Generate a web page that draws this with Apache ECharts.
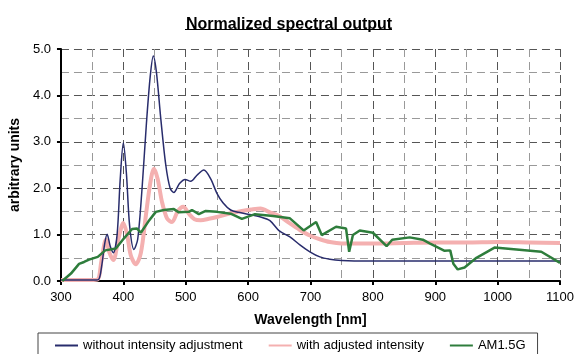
<!DOCTYPE html>
<html>
<head>
<meta charset="utf-8">
<script src="https://cdn.jsdelivr.net/npm/echarts@6/dist/echarts.min.js"></script>
<style>
  html, body { margin: 0; padding: 0; background: #fff; }
  #chart { width: 577px; height: 354px; }
</style>
</head>
<body>
<div id="chart"></div>
<script>
// values
const rawWl = [300, 350, 360, 365, 370, 374, 379, 384, 390, 395, 400, 405, 410, 417, 423, 430, 437, 443, 448, 453, 460, 468, 475, 481, 490, 499, 508, 518, 529, 540, 550, 560, 572, 585, 600, 620, 635, 650, 667, 683, 699, 715, 731, 750, 770, 800, 900, 1000, 1100];
const rawVal = [0.02, 0.02, 0.03, 0.3, 0.8, 1.01, 0.75, 0.61, 1.0, 2.2, 2.98, 2.3, 1.2, 0.68, 0.9, 2.0, 3.4, 4.4, 4.85, 4.5, 3.5, 2.5, 2.0, 1.91, 2.1, 2.19, 2.15, 2.28, 2.39, 2.2, 1.89, 1.68, 1.53, 1.48, 1.44, 1.38, 1.3, 1.08, 0.95, 0.78, 0.63, 0.52, 0.47, 0.44, 0.43, 0.43, 0.43, 0.43, 0.43];

const adjWl = [300, 320, 340, 358, 365, 372, 378, 384, 392, 400, 406, 412, 420, 428, 436, 443, 449, 455, 462, 470, 478, 487, 496, 505, 514, 524, 537, 550, 572, 590, 605, 620, 635, 651, 667, 683, 699, 715, 731, 750, 800, 850, 900, 950, 1000, 1050, 1100];
const adjVal = [0.02, 0.02, 0.02, 0.03, 0.45, 0.89, 0.6, 0.45, 0.9, 1.25, 1.0, 0.55, 0.36, 0.6, 1.4, 2.1, 2.42, 2.2, 1.7, 1.35, 1.27, 1.5, 1.6, 1.45, 1.33, 1.31, 1.34, 1.38, 1.46, 1.51, 1.54, 1.56, 1.48, 1.39, 1.24, 1.1, 0.98, 0.9, 0.84, 0.81, 0.81, 0.82, 0.83, 0.83, 0.84, 0.83, 0.82];

const amWl = [302, 316, 329, 337, 345, 359, 371, 388, 401, 414, 422, 428, 440, 452, 465, 481, 489, 505, 510, 521, 532, 550, 572, 590, 611, 640, 667, 689, 709, 718, 741, 757, 762, 768, 779, 800, 822, 831, 859, 880, 891, 915, 924, 929, 936, 947, 966, 995, 1070, 1100];
const amVal = [0.0, 0.16, 0.37, 0.41, 0.46, 0.52, 0.66, 0.7, 0.92, 1.12, 1.13, 1.04, 1.28, 1.49, 1.53, 1.55, 1.48, 1.49, 1.53, 1.44, 1.51, 1.49, 1.45, 1.34, 1.44, 1.4, 1.35, 1.09, 1.27, 0.99, 1.17, 1.13, 0.63, 0.99, 1.09, 1.04, 0.75, 0.89, 0.94, 0.89, 0.81, 0.65, 0.66, 0.37, 0.25, 0.29, 0.5, 0.72, 0.63, 0.39];

const seriesNames = ['without intensity adjustment', 'with adjusted intensity', 'AM1.5G'];

const zip = (xs, ys) => xs.map((x, i) => [x, ys[i]]);

const FONT = '"Liberation Sans", Arial, sans-serif';
const chart = echarts.init(document.getElementById('chart'));

const gridMajor = { show: true, lineStyle: { color: '#555', type: [8, 5], width: 1 } };
const gridMinor = { show: true, lineStyle: { color: '#999', type: [8, 5], width: 1 } };

chart.setOption({
  animation: false,
  textStyle: { fontFamily: FONT },
  title: {
    text: 'Normalized spectral output',
    left: 284,
    top: 12,
    textAlign: 'center',
    textStyle: { fontSize: 16, fontWeight: 'bold', color: '#000', fontFamily: FONT },
  },
  graphic: [
    { type: 'line', shape: { x1: 185, y1: 29.5, x2: 392, y2: 29.5 }, style: { stroke: '#000', lineWidth: 1 } },
  ],
  legend: {
    left: 38,
    top: 333,
    padding: [6, 12, 8, 16],
    itemGap: 25,
    itemWidth: 23,
    itemHeight: 10,
    borderColor: '#444',
    borderWidth: 1,
    itemStyle: { opacity: 0 },
    textStyle: { fontSize: 13, color: '#000', fontFamily: FONT },
    data: seriesNames,
  },
  grid: { left: 60, right: 16, top: 49, bottom: 73, containLabel: false },
  xAxis: {
    type: 'value',
    min: 300,
    max: 1100,
    interval: 100,
    name: 'Wavelength [nm]',
    nameLocation: 'middle',
    nameGap: 32,
    nameTextStyle: { fontSize: 14, fontWeight: 'bold', color: '#000', fontFamily: FONT },
    axisLine: { show: true, onZero: false, lineStyle: { color: '#000', width: 2 } },
    axisTick: { show: true, length: 4, lineStyle: { color: '#000', width: 2 } },
    axisLabel: { fontSize: 13, color: '#000', margin: 10, formatter: (v) => String(v) },
    splitLine: gridMajor,
    minorTick: { show: false, splitNumber: 2 },
    minorSplitLine: gridMinor,
  },
  yAxis: {
    type: 'value',
    min: 0,
    max: 5,
    interval: 1,
    name: 'arbitrary units',
    nameLocation: 'middle',
    nameGap: 32,
    nameTextStyle: { fontSize: 14, fontWeight: 'bold', color: '#000', fontFamily: FONT },
    axisLine: { show: true, lineStyle: { color: '#000', width: 2 } },
    axisTick: { show: true, length: 4, lineStyle: { color: '#000', width: 2 } },
    axisLabel: { fontSize: 13, color: '#000', margin: 10, formatter: (v) => v.toFixed(1) },
    splitLine: gridMajor,
    minorTick: { show: false, splitNumber: 2 },
    minorSplitLine: gridMinor,
  },
  series: [
    {
      name: seriesNames[1],
      type: 'line',
      data: zip(adjWl, adjVal),
      smooth: 0.3,
      symbol: 'none',
      z: 2,
      lineStyle: { color: '#f4b0b0', width: 4 },
      itemStyle: { color: '#f4b0b0' },
    },
    {
      name: seriesNames[0],
      type: 'line',
      data: zip(rawWl, rawVal),
      smooth: 0.3,
      symbol: 'none',
      z: 3,
      lineStyle: { color: '#282c6c', width: 1.5 },
      itemStyle: { color: '#282c6c' },
    },
    {
      name: seriesNames[2],
      type: 'line',
      data: zip(amWl, amVal),
      symbol: 'none',
      z: 4,
      lineStyle: { color: '#2e7d3c', width: 2.5 },
      itemStyle: { color: '#2e7d3c' },
    },
  ],
});
</script>
</body>
</html>
